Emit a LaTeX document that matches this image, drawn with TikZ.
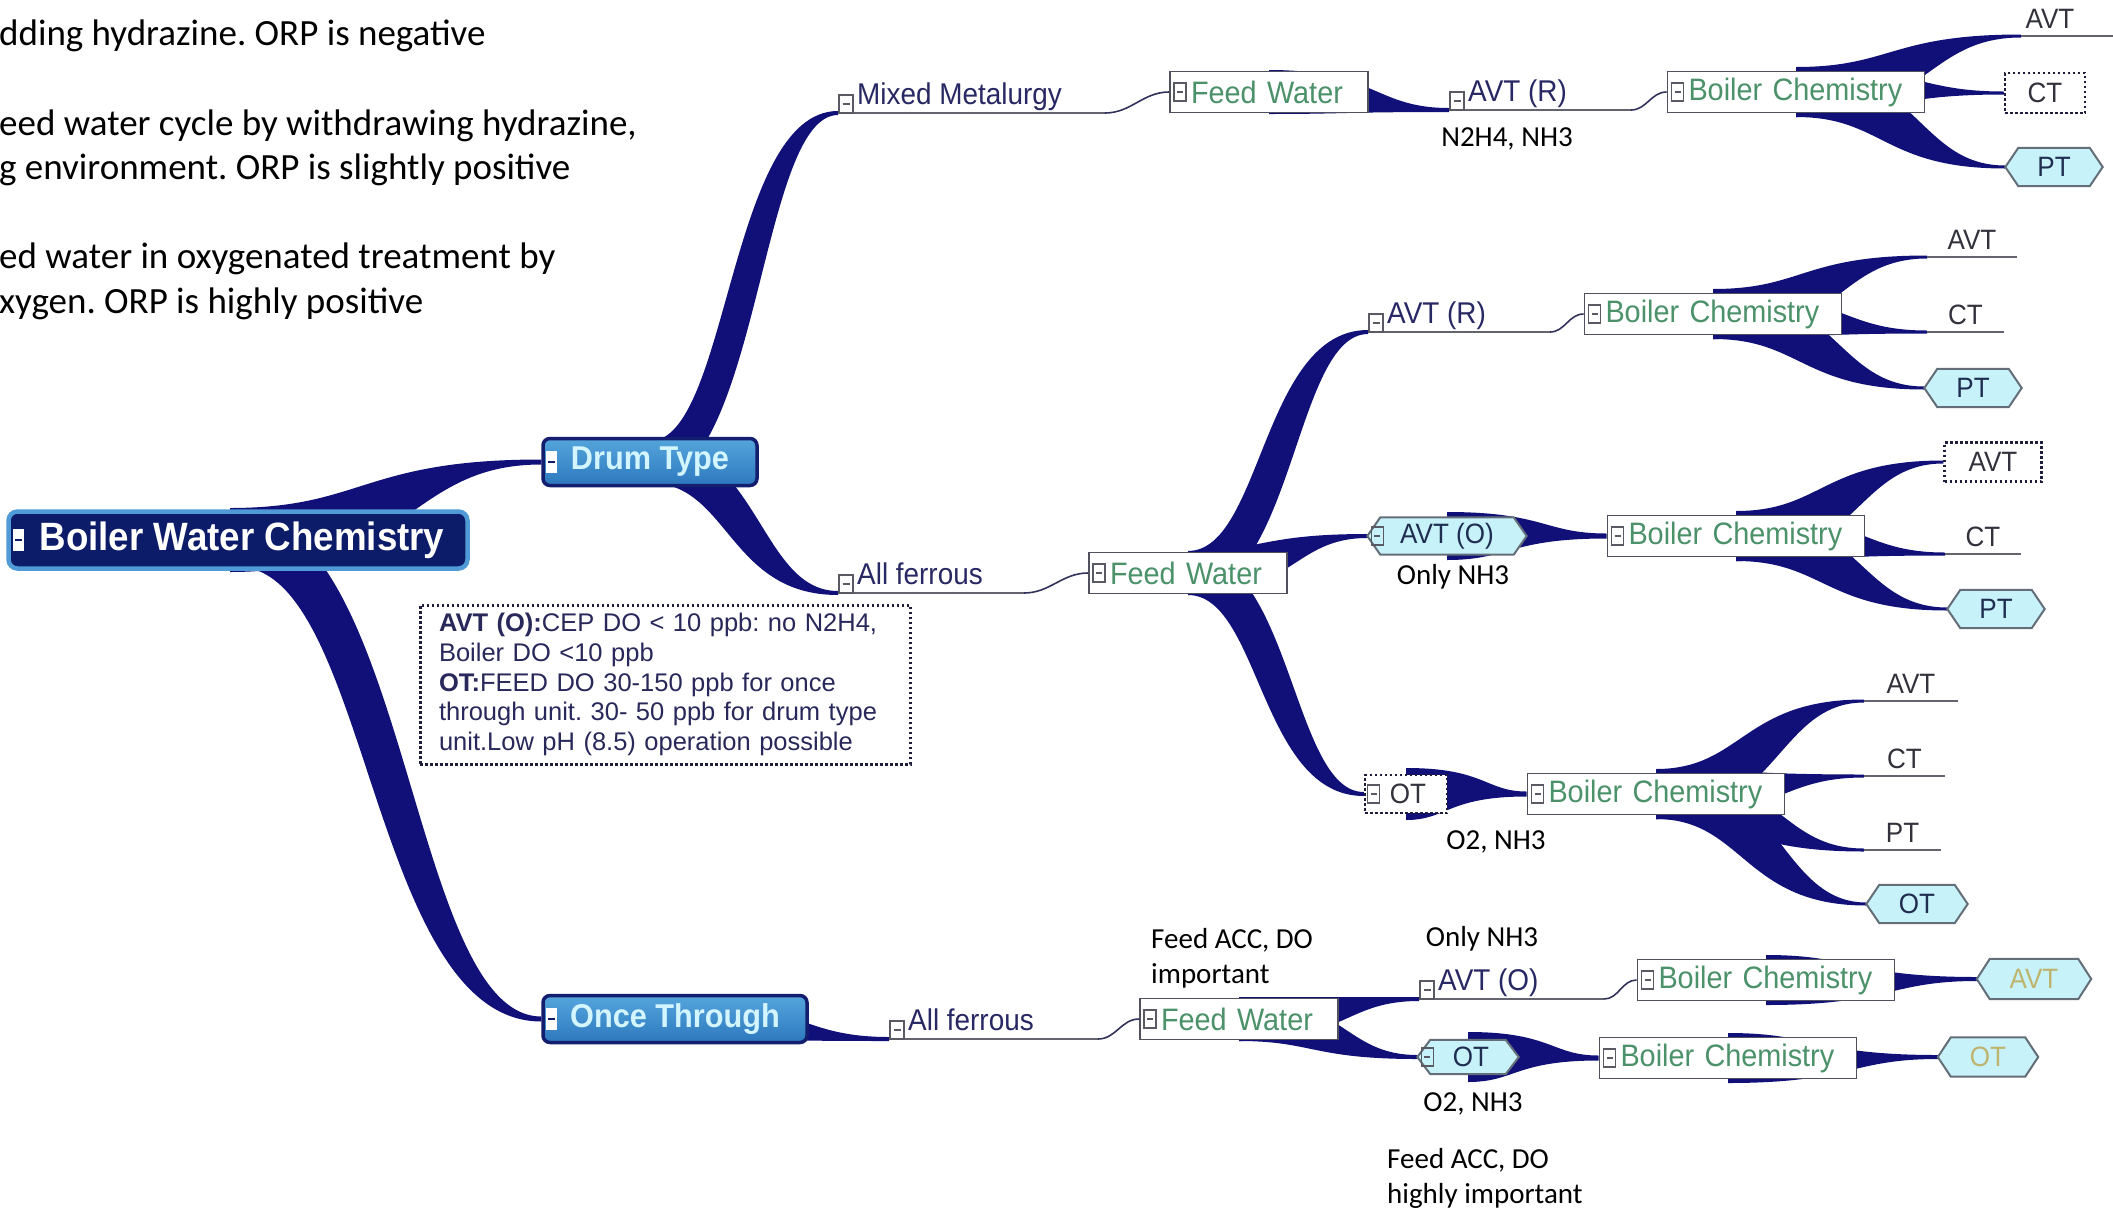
\documentclass[tikz,border=0pt]{standalone}
\usepackage{fontspec}
\setmainfont{Liberation Sans}
\newfontfamily\arfont[FakeStretch=0.93]{Liberation Sans}
\newfontfamily\calfont{Carlito}
\usetikzlibrary{calc}
\pgfdeclarelayer{bg}\pgfdeclarelayer{mid}
\pgfsetlayers{bg,mid,main}
\frenchspacing
\newcommand\fsz[1]{\fontsize{#1}{#1}\selectfont}
\definecolor{navy}{RGB}{16,16,120}
\definecolor{rootfill}{RGB}{12,28,105}
\definecolor{rootbord}{RGB}{80,155,215}
\definecolor{drumtop}{RGB}{85,165,220}
\definecolor{drumbot}{RGB}{45,120,190}
\definecolor{drumbord}{RGB}{20,30,110}
\definecolor{drumtext}{RGB}{210,245,255}
\definecolor{topictext}{RGB}{40,40,100}
\definecolor{greentext}{RGB}{75,145,105}
\definecolor{boxbord}{RGB}{80,80,95}
\definecolor{hexfill}{RGB}{200,242,250}
\definecolor{hexbord}{RGB}{100,110,120}
\definecolor{hextext}{RGB}{30,45,80}
\definecolor{leaftext}{RGB}{50,50,60}
\definecolor{ulcol}{RGB}{100,100,110}
\definecolor{thincol}{RGB}{50,50,90}
\definecolor{icocol}{RGB}{90,90,100}
\definecolor{notetext}{RGB}{40,40,90}
\definecolor{notebord}{RGB}{30,30,60}
\definecolor{yel}{RGB}{190,180,110}
\tikzset{
 rootst/.style={rounded corners=9pt, fill=rootfill, draw=rootbord, line width=4.5pt, text=white,
   font=\arfont\bfseries\fsz{39.5}, minimum width=459pt, minimum height=57pt, inner sep=0pt},
 drumst/.style={rounded corners=7pt, top color=drumtop, bottom color=drumbot, draw=drumbord,
   line width=3.5pt, text=drumtext, font=\arfont\bfseries\fsz{33}, minimum height=47pt, inner sep=0pt},
 bx/.style={draw=boxbord, fill=white, line width=1.8pt, text=greentext, font=\arfont\fsz{31},
   minimum height=41pt, inner xsep=5pt, inner ysep=0pt, align=left},
 bcbox/.style={bx, text width=247pt},
 fwbox/.style={bx, text width=188pt},
 topic/.style={text=topictext, font=\arfont\fsz{30}, inner sep=0pt},
 leaft/.style={text=leaftext, font=\arfont\fsz{28}, inner sep=0pt},
 hexn/.style={text=hextext, font=\arfont\fsz{28}, inner sep=0pt},
 hexst/.style={fill=hexfill, draw=hexbord, line width=2pt},
 dotbox/.style={draw=notebord, dash pattern=on 2.5pt off 2.5pt, line width=2.5pt, fill=white,
   text=leaftext, font=\arfont\fsz{28}, inner sep=0pt},
 anno/.style={font=\calfont\fsz{29}, text=black, inner sep=0pt, align=left},
 lefttext/.style={font=\calfont\fsz{37}, inner sep=0pt, text=black},
 note/.style={draw=notebord, dash pattern=on 2.5pt off 2.5pt, line width=3pt, fill=white,
   minimum width=490pt, minimum height=159pt, text width=452pt, inner xsep=19pt, inner ysep=0pt,
   align=left, font=\fontsize{25.5}{29.6}\selectfont, text=notetext},
 ul/.style={draw=ulcol, line width=2pt},
 thinc/.style={draw=thincol, line width=1.6pt},
 icon/.style={draw=icocol, line width=1.3pt}
}
% tapered branch from #1 (start, wide) to #2 (end, thin)
\newcommand\branch[4]{%
 \fill[navy] let \p1=(#1), \p2=(#2),
   \n1={0.5*(\x1+\x2)}, \n2={0.5*(#3)}, \n3={0.5*(#4)},
   \n4={((#3)+(#4))/3}, \n5={(\y2>\y1)?1:-1}
 in ({\x1},{\y1+\n2*1pt})
 .. controls ({\n1*1pt-\n4*\n5*1pt},{\y1+\n2*1pt}) and ({\n1*1pt-\n4*\n5*1pt},{\y2+\n3*1pt}) .. ({\x2},{\y2+\n3*1pt})
 -- ({\x2},{\y2-\n3*1pt})
 .. controls ({\n1*1pt+\n4*\n5*1pt},{\y2-\n3*1pt}) and ({\n1*1pt+\n4*\n5*1pt},{\y1-\n2*1pt}) .. ({\x1},{\y1-\n2*1pt})
 -- cycle;}
% underlined topic: name, x,y of underline start, length, text
\newcommand\utopic[4]{%
 \coordinate (#1) at (#2);
 \coordinate (#1-e) at ($(#1)+(#3,0)$);
 \draw[ul] (#1) -- (#1-e);
 \node[topic, anchor=base west] (#1-t) at ($(#1)+(19,-8.5)$) {#4};
 \draw[icon, fill=white] ($(#1)+(1,0)$) rectangle ($(#1)+(15,-18)$);
 \draw[icon] ($(#1)+(4.5,-9)$) -- ($(#1)+(11.5,-9)$);}
% leaf with underline: [text shift] name, x,y, length, text
\newcommand\leaf[5][0]{%
 \coordinate (#2) at (#3);
 \coordinate (#2-e) at ($(#2)+(#4,0)$);
 \draw[ul] (#2) -- (#2-e);
 \node[leaft, anchor=base] (#2-t) at ($(#2)+({#4/2+(#1)},-8)$) {#5};}
% hexagon node: [opts] name, x,y, w, h, text
\newcommand\hexnode[6][]{%
 \node[hexn, minimum width=#4pt, minimum height=#5pt, #1] (#2) at (#3) {#6};
 \begin{pgfonlayer}{mid}
 \draw[hexst] (#2.west) -- ($(#2.north west)+(13,0)$) -- ($(#2.north east)+(-13,0)$) -- (#2.east)
   -- ($(#2.south east)+(-13,0)$) -- ($(#2.south west)+(13,0)$) -- cycle;
 \end{pgfonlayer}}
% expand icon inside a box
\newcommand\bico[2][5]{%
 \draw[icon] ($(#2.west)+(#1,-9)$) rectangle ($(#2.west)+(#1+12,9)$);
 \draw[icon] ($(#2.west)+(#1+3,0)$) -- ($(#2.west)+(#1+9,0)$);}
% white icon for main topics
\newcommand\wico[2][7]{%
 \fill[white] ($(#2.west)+(#1,-11)$) rectangle ($(#2.west)+(#1+11,11)$);
 \draw[rootfill, line width=2.5pt] ($(#2.west)+(#1+2,0)$) -- ($(#2.west)+(#1+9,0)$);}
\begin{document}
\begin{tikzpicture}[x=1pt,y=-1pt]
\useasboundingbox (0,0) rectangle (2113,1211);
\begin{pgfonlayer}{bg}\fill[white] (0,0) rectangle (2113,1211);\end{pgfonlayer}

% left text
\node[lefttext, anchor=base west] (lt1) at (-1,45) {dding hydrazine. ORP is negative};
\node[lefttext, anchor=base west] (lt2) at (-1,135) {eed water cycle by withdrawing hydrazine,};
\node[lefttext, anchor=base west] (lt3) at (-1,179) {g environment. ORP is slightly positive};
\node[lefttext, anchor=base west] (lt4) at (-1,268) {ed water in oxygenated treatment by};
\node[lefttext, anchor=base west] (lt5) at (-1,313) {xygen. ORP is highly positive};

% main topics
\node[rootst] (root) at (238,540) {\hspace*{8pt}Boiler Water Chemistry};
\node[drumst, minimum width=214pt] (drum) at (650,462) {Drum Type};
\node[drumst, minimum width=264pt] (once) at (675,1019) {Once Through};
\wico{root}\wico[5]{drum}\wico[5]{once}
\coordinate (rootc) at ($(root.center)+(-8,0)$);

% note
\node[note] (note) at (665,684.5) {\textbf{AVT (O):}CEP DO < 10 ppb: no N2H4,\\Boiler DO <10 ppb\\\textbf{OT:}FEED DO 30-150 ppb for once\\through unit. 30- 50 ppb for drum type\\unit.Low pH (8.5) operation possible};

% ---- top row: mixed metalurgy
\utopic{mm}{838,113}{267}{Mixed Metalurgy}
\node[fwbox] (fw1) at (1269,92) {\hspace*{16pt}Feed Water}; \bico{fw1}
\utopic{avr1}{1449,110}{182}{AVT (R)}
\node[anno] (a1) at (1507,139) {N2H4, NH3};
\node[bcbox] (bc1) at (1796,92) {\hspace*{16pt}Boiler Chemistry}; \bico{bc1}
\leaf[-17]{l1a}{2021,36}{92}{AVT}
\node[dotbox, minimum width=80pt, minimum height=40pt] (l1c) at (2045,93) {CT};
\hexnode{l1p}{2054,167}{97}{38}{PT}
\draw[thinc] (mm-e) to[out=0,in=180] (fw1.west);
\draw[thinc] (avr1-e) to[out=0,in=180] (bc1.west);

% ---- middle: all ferrous (drum)
\utopic{af1}{838,593}{186}{All ferrous}
\node[fwbox] (fw2) at (1188,573) {\hspace*{16pt}Feed Water}; \bico{fw2}
\draw[thinc] (af1-e) to[out=0,in=180] (fw2.west);
\utopic{avr2}{1368,332}{182}{AVT (R)}
\node[bcbox] (bc2) at (1713,314) {\hspace*{16pt}Boiler Chemistry}; \bico{bc2}
\draw[thinc] (avr2-e) to[out=0,in=180] (bc2.west);
\leaf{l2a}{1927,257}{90}{AVT}
\leaf{l2c}{1927,332}{77}{CT}
\hexnode{l2p}{1973,388}{97}{38}{PT}

\hexnode{avo1}{1447,536}{159}{37}{AVT (O)} \bico[4]{avo1}
\node[anno] (a2) at (1453,577) {Only NH3};
\node[bcbox] (bc3) at (1736,536) {\hspace*{16pt}Boiler Chemistry}; \bico{bc3}
\node[dotbox, minimum width=97pt, minimum height=39pt] (l3a) at (1993,462) {AVT};
\leaf{l3c}{1945,554}{76}{CT}
\hexnode{l3p}{1996,609}{97}{38}{PT}

\node[dotbox, minimum width=82pt, minimum height=38pt] (ot1) at (1406,794) {\hspace*{4pt}OT}; \bico[4]{ot1}
\node[anno] (a3) at (1496,842) {O2, NH3};
\node[bcbox] (bc4) at (1656,794) {\hspace*{16pt}Boiler Chemistry}; \bico{bc4}
\leaf{l4a}{1864,701}{94}{AVT}
\leaf{l4c}{1864,776}{81}{CT}
\leaf{l4p}{1864,850}{77}{PT}
\hexnode{l4o}{1917,904}{101}{38}{OT}

% ---- bottom: once through
\utopic{af2}{889,1039}{209}{All ferrous}
\node[fwbox] (fw3) at (1239,1019) {\hspace*{16pt}Feed Water}; \bico{fw3}
\draw[thinc] (af2-e) to[out=0,in=180] (fw3.west);
\node[anno, anchor=north west, font=\calfont\fontsize{29}{35}\selectfont] (a4) at (1151,928) {Feed ACC, DO\\important};
\node[anno] (a5) at (1482,939) {Only NH3};
\utopic{avo2}{1419,999}{185}{AVT (O)}
\node[bcbox] (bc5) at (1766,980) {\hspace*{16pt}Boiler Chemistry}; \bico{bc5}
\draw[thinc] (avo2-e) to[out=0,in=180] (bc5.west);
\hexnode[text=yel]{l5a}{2034,979}{114}{40}{AVT}
\hexnode{ot2}{1468,1057}{101}{34}{\hspace*{6pt}OT} \bico[4]{ot2}
\node[anno] (a6) at (1473,1104) {O2, NH3};
\node[bcbox] (bc6) at (1728,1058) {\hspace*{16pt}Boiler Chemistry}; \bico{bc6}
\hexnode[text=yel]{l6o}{1988,1057}{100}{39}{OT}
\node[anno, anchor=north west, font=\calfont\fontsize{29}{35}\selectfont] (a7) at (1387,1148) {Feed ACC, DO\\highly important};

% ---- tapered branches
\begin{pgfonlayer}{bg}
\branch{rootc}{drum.west}{64}{5}
\branch{root}{once.west}{54}{5}
\branch{drum}{mm}{42}{4}
\branch{drum}{af1}{42}{4}
\branch{once}{af2}{40}{4}
\branch{fw1}{avr1}{44}{4}
\branch{bc1}{l1a}{50}{3}
\branch{bc1}{l1c.west}{50}{3}
\branch{bc1}{l1p.west}{50}{3}
\branch{fw2}{avr2}{44}{4}
\branch{fw2}{avo1.west}{44}{4}
\branch{fw2}{ot1.west}{44}{4}
\branch{bc2}{l2a}{50}{3}
\branch{bc2}{l2c}{50}{3}
\branch{bc2}{l2p.west}{50}{3}
\branch{avo1}{bc3.west}{48}{5}
\branch{bc3}{l3a.west}{50}{3}
\branch{bc3}{l3c}{50}{3}
\branch{bc3}{l3p.west}{50}{3}
\branch{ot1}{bc4.west}{52}{5}
\branch{bc4}{l4a}{50}{3}
\branch{bc4}{l4c}{50}{3}
\branch{bc4}{l4p}{50}{3}
\branch{bc4}{l4o.west}{50}{3}
\branch{fw3}{avo2}{44}{4}
\branch{fw3}{ot2.west}{44}{4}
\branch{bc5}{l5a.west}{50}{4}
\branch{ot2}{bc6.west}{50}{5}
\branch{bc6}{l6o.west}{50}{4}
\end{pgfonlayer}
\end{tikzpicture}
\end{document}
